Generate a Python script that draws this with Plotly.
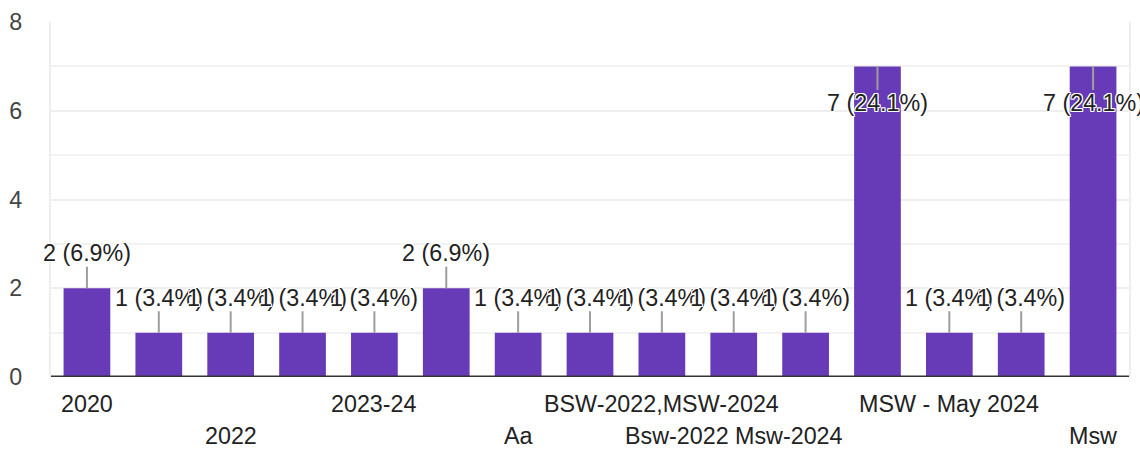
import plotly.graph_objects as go

categories = ["2020", "", "2022", "", "2023-24", "", "Aa", "",
              "BSW-2022,MSW-2024", "Bsw-2022 Msw-2024", "", "", "MSW - May 2024", "", "Msw"]
label_rows = [0, 0, 1, 0, 0, 0, 1, 0, 0, 1, 0, 0, 0, 0, 1]
counts = [2, 1, 1, 1, 1, 2, 1, 1, 1, 1, 1, 7, 1, 1, 7]
y_ticks = [0, 2, 4, 6, 8]

total = sum(counts)
xs = list(range(len(counts)))

FONT = "Arial, Liberation Sans, sans-serif"
FS = 23.3
HALO = "-1px -1px 0 #fff, 1px -1px 0 #fff, -1px 1px 0 #fff, 1px 1px 0 #fff, 0 1px 0 #fff, 0 -1px 0 #fff, 1px 0 0 #fff, -1px 0 0 #fff"

fig = go.Figure(go.Bar(x=xs, y=counts, marker=dict(color="#673ab7", line=dict(width=0)),
                       hoverinfo="skip"))

annotations = []
for x, c in zip(xs, counts):
    inside = c >= 7
    annotations.append(dict(
        x=x, y=c, xref="x", yref="y",
        text=f"{c} ({c / total * 100:.1f}%)",
        showarrow=True, arrowhead=0, arrowwidth=2, arrowcolor="#9e9e9e",
        ax=0, ay=37 if inside else -35, standoff=0, borderpad=0,
        font=dict(family=FONT, size=FS, color="#222222", shadow=HALO),
    ))
for x, lab, row in zip(xs, categories, label_rows):
    if lab:
        annotations.append(dict(
            x=x, y=0, xref="x", yref="y", text=lab, showarrow=False,
            yanchor="middle", yshift=-27 - 32 * row,
            font=dict(family=FONT, size=FS, color="#222222"),
        ))

fig.update_layout(
    width=1140, height=452,
    margin=dict(l=47, r=9, t=19, b=75),
    paper_bgcolor="white", plot_bgcolor="white",
    bargap=0.35, showlegend=False,
    annotations=annotations,
    xaxis=dict(range=[-0.5, len(counts) - 0.5], showticklabels=False, showgrid=False,
               zeroline=False, showline=False, ticks=""),
    yaxis=dict(range=[0, 8], tickvals=y_ticks,
               showgrid=True, gridcolor="#eeeeee", gridwidth=2,
               minor=dict(dtick=1, showgrid=True, gridcolor="#f2f2f2", gridwidth=2),
               showline=True, mirror=True, linecolor="#eeeeee", linewidth=2,
               zeroline=False, ticklabelstandoff=22,
               tickfont=dict(family=FONT, size=FS, color="#444444")),
    shapes=[dict(type="line", xref="paper", yref="y", x0=0, x1=1, y0=0, y1=0,
                 line=dict(color="#333333", width=3))],
)

fig.write_html("out.html", config={"displayModeBar": False},
               post_script="document.body.style.margin='0';document.body.style.overflow='hidden';")
